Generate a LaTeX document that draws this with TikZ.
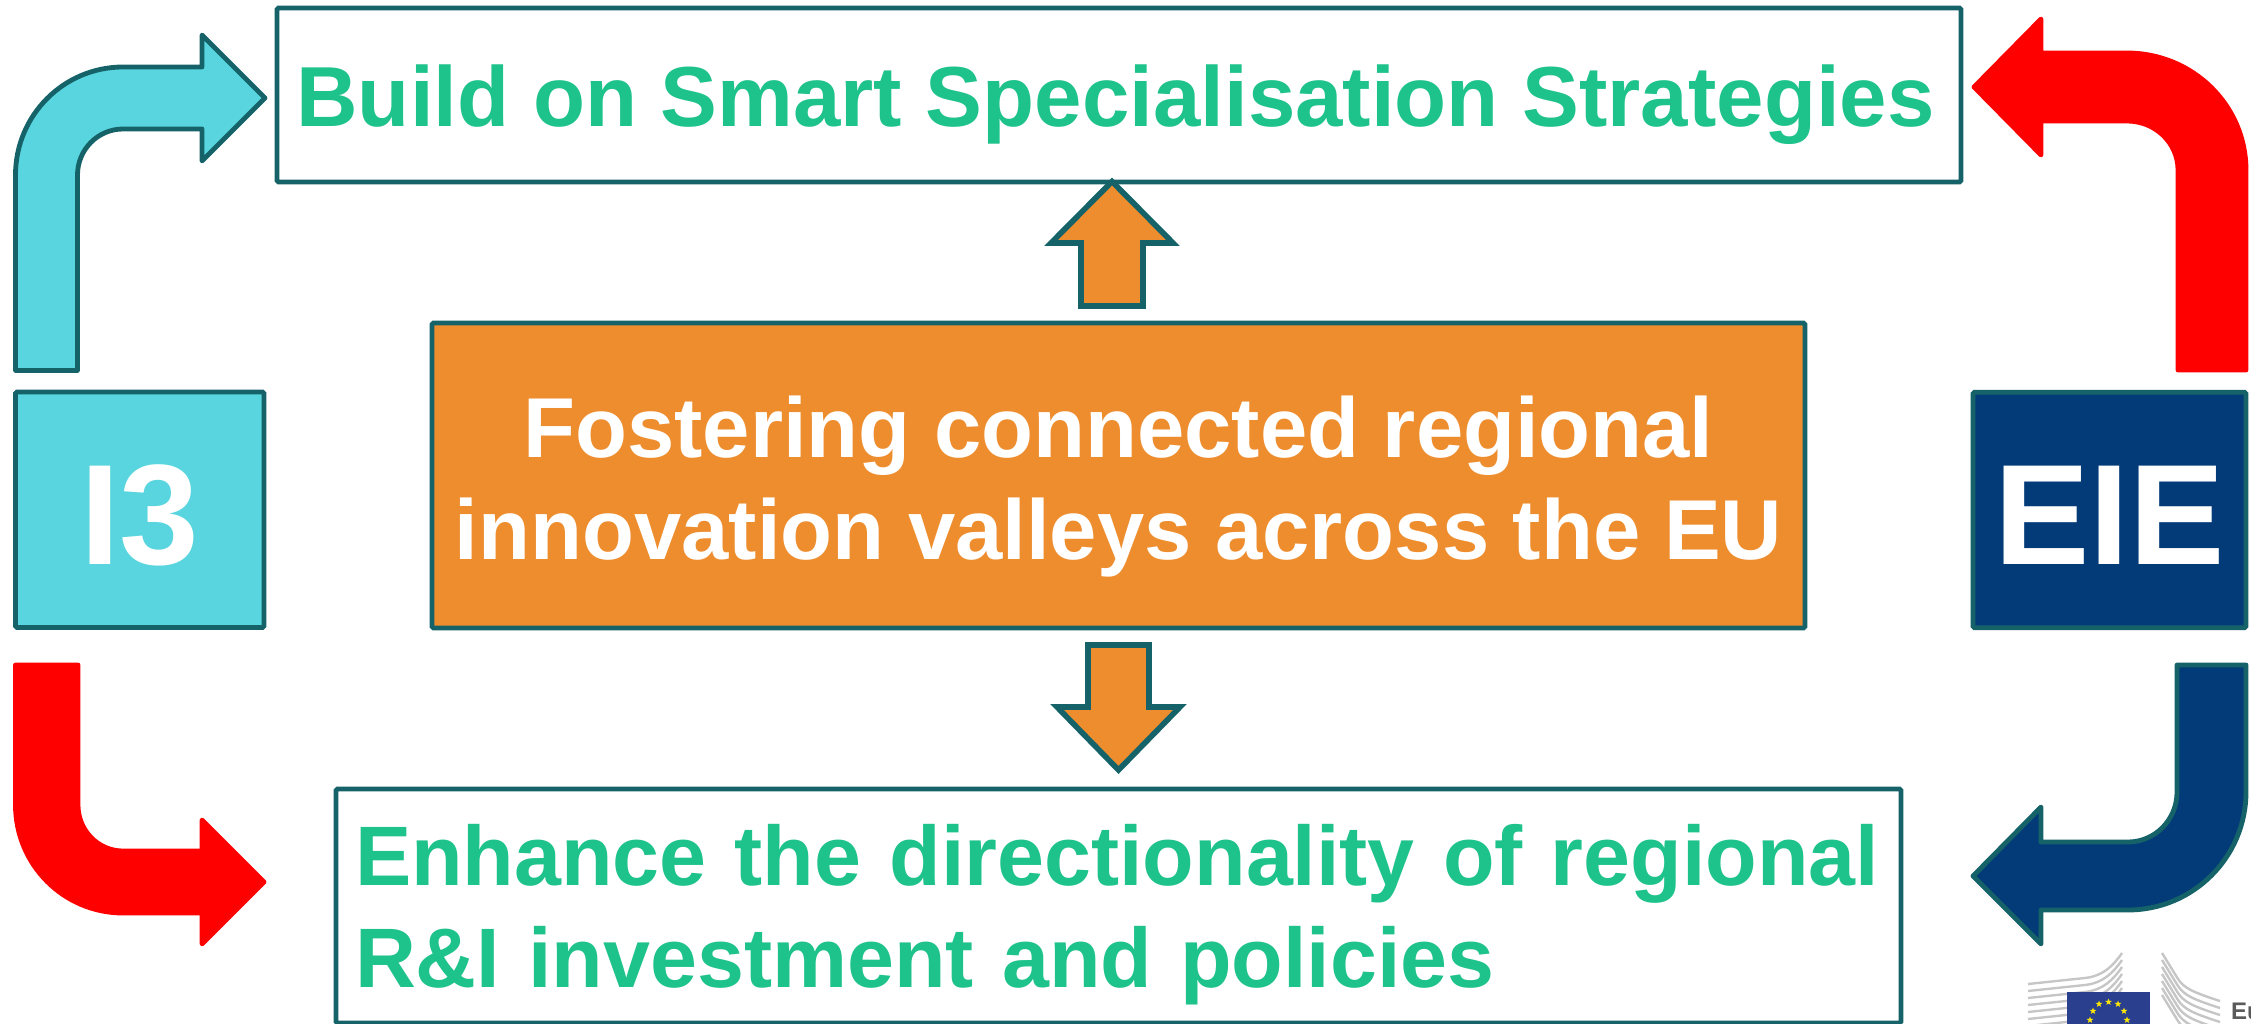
\documentclass[tikz,border=0pt]{standalone}
\usepackage{fontspec}
\setmainfont{Liberation Sans}
\usetikzlibrary{calc,shapes.geometric}
\definecolor{edge}{HTML}{156369}
\definecolor{cyanf}{HTML}{58D5DE}
\definecolor{orangef}{HTML}{EE8D2E}
\definecolor{navyf}{HTML}{033B78}
\definecolor{greent}{HTML}{1EC28B}
\definecolor{redf}{HTML}{FF0000}
\definecolor{flagf}{HTML}{2B3F8F}
\definecolor{bldg}{HTML}{C6C6C6}
\definecolor{logot}{HTML}{5A5A5A}
\newcommand{\qarc}[3]{.. controls ($(#1)!.5523!(#2)$) and ($(#3)!.5523!(#2)$) .. (#3)}
\newcommand{\ups}[2]{\rule[-#2pt]{0pt}{\dimexpr#1pt+#2pt\relax}}
\tikzset{
  boxbase/.style={draw=edge,line width=4.8pt,rounded corners=1.5pt,inner sep=0pt,outer sep=0pt,anchor=center},
  whitebox/.style={boxbase,fill=white,text=greent},
  sidebox/.style={boxbase,text=white,minimum width=#1,minimum height=235.5pt,font=\bfseries\fontsize{143}{144}\selectfont},
  bendarrow/.style={line width=4.8pt,line join=round},
  straightarrow/.style={draw=edge,fill=orangef,line width=5.6pt,line join=miter,miter limit=10},
  logostar/.style={star,star points=5,star point ratio=2.4,fill=yellow!90!orange,inner sep=0pt,minimum size=7pt}
}
\begin{document}
\begin{tikzpicture}[x=1pt,y=-1pt]
\useasboundingbox (0,0) rectangle (2251,1024);
% boxes
\node[whitebox,minimum width=1684pt,minimum height=174pt,font=\bfseries\fontsize{85.2}{102}\selectfont] (strategies) at (1119,95)
  {\ups{84}{20}Build on Smart Specialisation Strategies\kern7pt};
\node[boxbase,fill=orangef,text=white,minimum width=1373pt,minimum height=305pt,align=center,
  font=\bfseries\fontsize{85}{102}\selectfont] (valleys) at (1118.5,475.5)
  {\ups{83}{20}Fostering connected regional\\innovation valleys across the EU};
\node[whitebox,minimum width=1565pt,minimum height=234pt,align=left,text width=1527pt,inner xsep=19pt,font=\bfseries\fontsize{84.4}{102}\selectfont] (directionality) at (1118.5,906)
  {\ups{78}{26}\mbox{Enhance the directionality of regional}\\\mbox{R\&I investment and policies}};
\node[sidebox=248.5pt,fill=cyanf] (ithree) at (139.75,509.75) {\ups{120}{10}I3};
\node[sidebox=273pt,fill=navyf] (eie) at (2109.5,510) {\ups{118}{10}EIE};
% bent arrows
\draw[bendarrow,draw=edge,fill=cyanf] (15.5,370.5) -- (15.5,175) \qarc{15.5,175}{15.5,67}{123,67}
  -- (202,67) -- (202,35) -- (265,98) -- (202,161) -- (202,129) -- (123,129)
  \qarc{123,129}{77.5,129}{77.5,175} -- (77.5,370.5) -- cycle;
\draw[bendarrow,draw=redf,fill=redf] (15.5,665) -- (15.5,805) \qarc{15.5,805}{15.5,913}{123,913}
  -- (202,913) -- (202,944) -- (264,882) -- (202,820) -- (202,851) -- (123,851)
  \qarc{123,851}{78,851}{78,805} -- (78,665) -- cycle;
\draw[bendarrow,draw=redf,fill=redf] (2246,370) -- (2246,170) \qarc{2246,170}{2246,53}{2127,53}
  -- (2041,53) -- (2041,19) -- (1974,87) -- (2041,155) -- (2041,121) -- (2127,121)
  \qarc{2127,121}{2178,121}{2178,170} -- (2178,370) -- cycle;
\draw[bendarrow,draw=edge,fill=navyf] (2246,665) -- (2246,792) \qarc{2246,792}{2246,910}{2128,910}
  -- (2041,910) -- (2041,944) -- (1973,876) -- (2041,807) -- (2041,842) -- (2128,842)
  \qarc{2128,842}{2177,842}{2177,792} -- (2177,665) -- cycle;
% straight arrows
\draw[straightarrow] (1081,306) -- (1081,243) -- (1051,243) -- (1112,181.5) -- (1173,243) -- (1143,243) -- (1143,306) -- cycle;
\draw[straightarrow] (1088,645) -- (1088,707) -- (1057,707) -- (1118.5,770) -- (1180,707) -- (1149,707) -- (1149,645) -- cycle;
% logo
\foreach \i in {0,...,6}{
  \draw[bldg,line width=2.4pt] (2028,{984+\i*7}) -- (2085,{978+\i*7}) .. controls (2103,{976+\i*7}) and (2113,{966+\i*7}) .. (2122,{953+\i*7});
  \draw[bldg,line width=2.4pt] (2162,{953+\i*7}) -- (2178,{979+\i*7}) .. controls (2184,{988+\i*7}) and (2192,{992+\i*7}) .. (2220,{1001+\i*7});
}
\fill[flagf] (2067,992) rectangle (2150,1024);
\foreach \n/\x/\y in {a/2108.5/1002,b/2099/1004,c/2118/1004,d/2093/1011,e/2124/1011,f/2090/1020,g/2127/1020}{
  \node[logostar] (star\n) at (\x,\y) {};
}
\node[anchor=base west,inner sep=0pt,text=logot,font=\bfseries\fontsize{24}{24}\selectfont] (commission) at (2231,1019) {Eu};
\end{tikzpicture}
\end{document}
